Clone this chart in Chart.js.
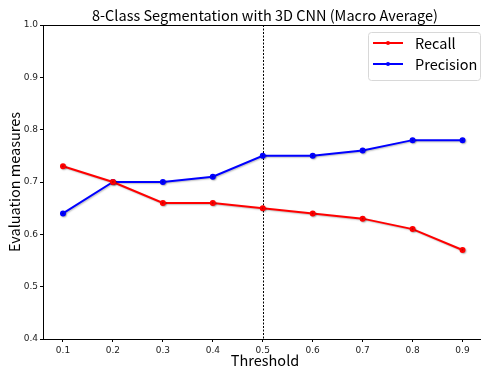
<!DOCTYPE html>
<html>
<head>
<meta charset="utf-8">
<script src="https://cdn.jsdelivr.net/npm/chart.js@4"></script>
<style>
  html, body { margin: 0; padding: 0; background: #fff; overflow: hidden; }
  canvas { display: block; }
</style>
</head>
<body>
<canvas id="grafico" width="484" height="370"></canvas>
<script>
// dados
const thresholds = [0.1, 0.2, 0.3, 0.4, 0.5, 0.6, 0.7, 0.8, 0.9];
const recall = [0.73, 0.70, 0.66, 0.66, 0.65, 0.64, 0.63, 0.61, 0.57];
const precision = [0.64, 0.70, 0.70, 0.71, 0.75, 0.75, 0.76, 0.78, 0.78];
const yTicks = [0.4, 0.5, 0.6, 0.7, 0.8, 0.9, 1.0];
const cutoff = 0.5;

const titulo = "8-Class Segmentation with 3D CNN (Macro Average)";
const jpFont = "'Noto Sans CJK JP', 'Noto Sans', sans-serif";

function pontos(vals) {
  return thresholds.map((t, i) => ({ x: t, y: vals[i] }));
}

// sombra, linha tracejada, moldura de cima, títulos e legenda
const extras = {
  id: "extras",
  beforeDatasetsDraw(chart) {
    const { ctx, chartArea, scales } = chart;
    const x = Math.round(scales.x.getPixelForValue(cutoff)) + 0.5;
    ctx.save();
    ctx.strokeStyle = "#000";
    ctx.lineWidth = 1;
    ctx.setLineDash([2, 1.5]);
    ctx.beginPath();
    ctx.moveTo(x, chartArea.top);
    ctx.lineTo(x, chartArea.bottom);
    ctx.stroke();
    ctx.restore();
  },
  beforeDatasetDraw(chart) {
    const ctx = chart.ctx;
    ctx.save();
    ctx.shadowColor = "rgba(0,0,0,0.25)";
    ctx.shadowOffsetX = 1;
    ctx.shadowOffsetY = 1;
    ctx.shadowBlur = 1.5;
  },
  afterDatasetDraw(chart) {
    chart.ctx.restore();
  },
  afterDraw(chart) {
    const { ctx, chartArea } = chart;
    ctx.save();
    // top spine
    ctx.strokeStyle = "#000";
    ctx.lineWidth = 1;
    ctx.beginPath();
    ctx.moveTo(chartArea.left, chartArea.top + 0.5);
    ctx.lineTo(chartArea.right, chartArea.top + 0.5);
    ctx.stroke();

    ctx.fillStyle = "#000";
    ctx.font = "14.5px " + jpFont;
    ctx.textAlign = "center";
    ctx.textBaseline = "middle";
    const cx = 265;
    ctx.fillText(titulo, cx, 15);
    ctx.fillText("Threshold", cx, 360);
    ctx.save();
    ctx.translate(14, (chartArea.top + chartArea.bottom) / 2);
    ctx.rotate(-Math.PI / 2);
    ctx.fillText("Evaluation measures", 0, 0);
    ctx.restore();

    // legenda
    const bx = 368, by = 32, bw = 112, bh = 48;
    ctx.strokeStyle = "#d8d8d8";
    ctx.fillStyle = "rgba(255,255,255,0.85)";
    ctx.beginPath();
    ctx.roundRect(bx + 0.5, by + 0.5, bw, bh, 3);
    ctx.fill();
    ctx.stroke();
    ctx.textAlign = "left";
    chart.data.datasets.forEach((ds, i) => {
      const y = by + 11 + i * 21;
      ctx.strokeStyle = ds.borderColor;
      ctx.lineWidth = 2;
      ctx.beginPath();
      ctx.moveTo(bx + 5, y);
      ctx.lineTo(bx + 35, y);
      ctx.stroke();
      ctx.fillStyle = ds.borderColor;
      ctx.beginPath();
      ctx.arc(bx + 20, y, 2, 0, Math.PI * 2);
      ctx.fill();
      ctx.fillStyle = "#000";
      ctx.fillText(ds.label, bx + 47, y);
    });
    ctx.restore();
  }
};

new Chart(document.getElementById("grafico"), {
  type: "line",
  data: {
    datasets: [
      {
        label: "Recall",
        data: pontos(recall),
        borderColor: "#ff0000",
        backgroundColor: "#ff0000",
        borderWidth: 2,
        pointRadius: 2,
        pointHoverRadius: 2,
        tension: 0
      },
      {
        label: "Precision",
        data: pontos(precision),
        borderColor: "#0000ff",
        backgroundColor: "#0000ff",
        borderWidth: 2,
        pointRadius: 2,
        pointHoverRadius: 2,
        tension: 0
      }
    ]
  },
  options: {
    responsive: false,
    animation: false,
    layout: { padding: { top: 25, left: 0, right: 0, bottom: 0 } },
    plugins: {
      legend: { display: false },
      title: { display: false },
      tooltip: { enabled: false }
    },
    scales: {
      x: {
        type: "linear",
        min: 0.06,
        max: 0.935,
        afterBuildTicks(scale) {
          scale.ticks = thresholds.map(v => ({ value: v }));
        },
        afterFit(scale) { scale.height = 31; },
        ticks: {
          color: "#222",
          font: { family: "'DejaVu Sans'", size: 9 },
          padding: 3,
          maxRotation: 0,
          callback: v => v.toFixed(1)
        },
        grid: { drawOnChartArea: false, tickLength: 3, color: "#000" },
        border: { color: "#000", width: 1 }
      },
      y: {
        min: 0.4,
        max: 1.0,
        afterBuildTicks(scale) {
          scale.ticks = yTicks.map(v => ({ value: v }));
        },
        afterFit(scale) { scale.width = 43; },
        ticks: {
          color: "#222",
          font: { family: "'DejaVu Sans'", size: 9 },
          padding: 2,
          callback: v => v.toFixed(1)
        },
        grid: { drawOnChartArea: false, tickLength: 3, color: "#000" },
        border: { color: "#000", width: 1 }
      }
    }
  },
  plugins: [extras]
});
</script>
</body>
</html>
